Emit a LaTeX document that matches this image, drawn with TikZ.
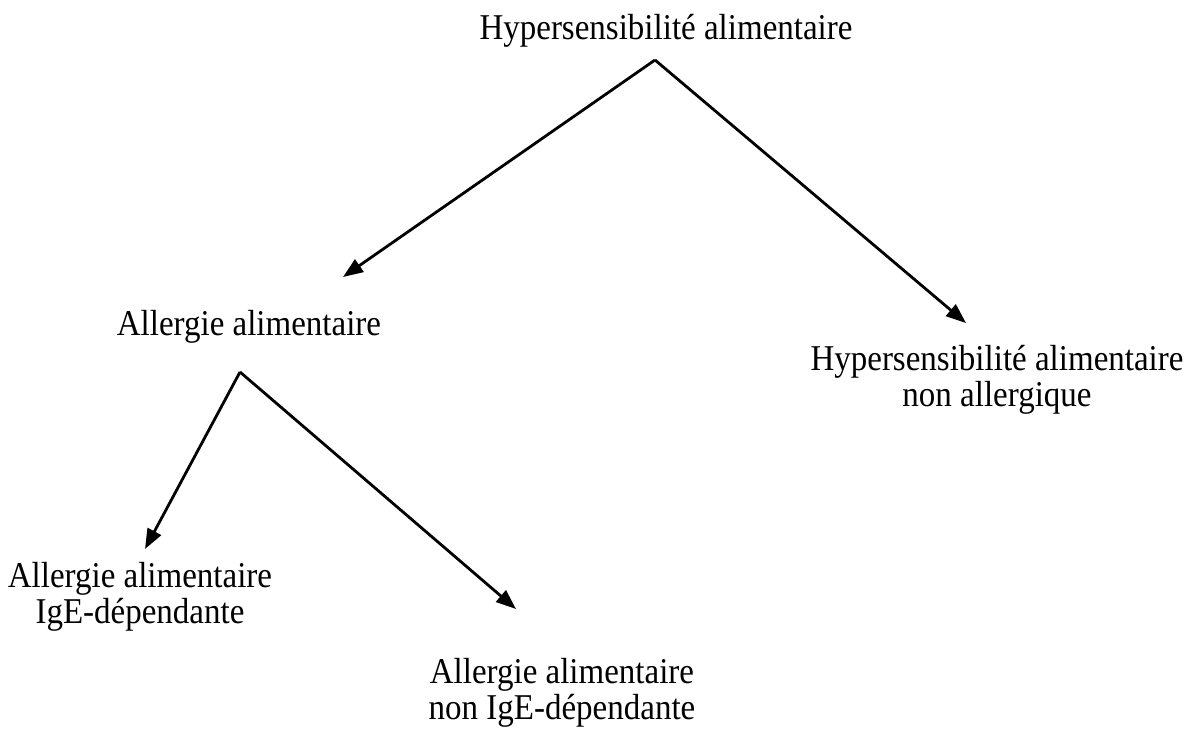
\documentclass[tikz,border=0pt]{standalone}
\usepackage{fontspec}
\usepackage{graphicx}
\setmainfont{Liberation Serif}
\usetikzlibrary{arrows.meta}
\newcommand{\vstext}[1]{\scalebox{1}[1.1]{\begin{tabular}{@{}c@{}}#1\end{tabular}}}
\begin{document}
\begin{tikzpicture}[x=1pt,y=-1pt,
  lbl/.style={inner sep=0pt,font=\fontsize{33}{32}\selectfont},
  arr/.style={line width=2.8pt,-{Triangle[length=20pt,width=15pt]}}]
\useasboundingbox (0,0) rectangle (1194,729);
\node[lbl] (hyp) at (666,32) {\vstext{Hypersensibilité alimentaire}};
\node[lbl] (all) at (249,328) {\vstext{Allergie alimentaire}};
\node[lbl] (nonall) at (997,381) {\vstext{Hypersensibilité alimentaire\\non allergique}};
\node[lbl] (ige) at (140,598) {\vstext{Allergie alimentaire\\IgE-dépendante}};
\node[lbl] (nonige) at (562,694) {\vstext{Allergie alimentaire\\non IgE-dépendante}};
\coordinate (a1) at (655,60);
\coordinate (t1) at (343,277);
\coordinate (t2) at (966,323);
\coordinate (a2) at (240,372);
\coordinate (t3) at (145,549);
\coordinate (t4) at (516,609);
\draw[arr] (a1) -- (t1);
\draw[arr] (a1) -- (t2);
\draw[arr] (a2) -- (t3);
\draw[arr] (a2) -- (t4);
\end{tikzpicture}
\end{document}
